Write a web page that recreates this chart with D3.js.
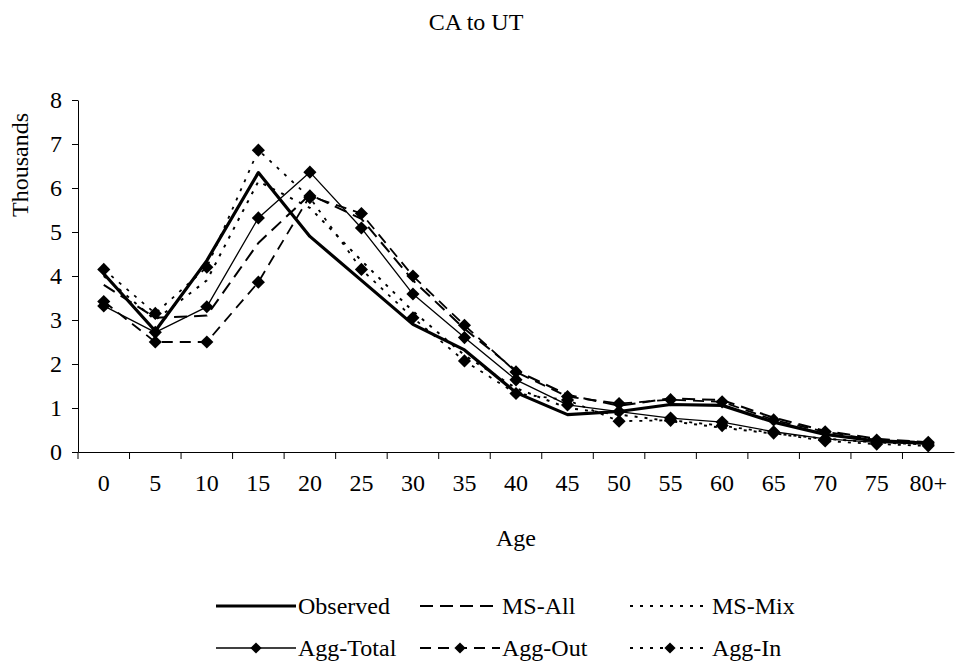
<!DOCTYPE html>
<html>
<head>
<meta charset="utf-8">
<script src="https://cdn.jsdelivr.net/npm/d3@7"></script>
<style>
  body { margin: 0; background: #fff; }
  svg { display: block; font-family: 'Liberation Serif', 'Times New Roman', serif; }
</style>
</head>
<body>
<svg id="chart" width="955" height="664"></svg>
<script>
const ages = ['0','5','10','15','20','25','30','35','40','45','50','55','60','65','70','75','80+'];

const observed = [4.05, 2.75, 4.35, 6.35, 4.9, 3.9, 2.9, 2.32, 1.35, 0.85, 0.92, 1.08, 1.06, 0.68, 0.4, 0.25, 0.2];
const msAll    = [3.8, 3.05, 3.1, 4.75, 5.85, 5.3, 3.9, 2.8, 1.85, 1.3, 1.05, 1.22, 1.18, 0.78, 0.48, 0.3, 0.22];
const msMix    = [4.0, 3.0, 3.9, 6.15, 5.55, 4.35, 3.2, 2.2, 1.45, 1.0, 0.85, 0.7, 0.55, 0.42, 0.3, 0.22, 0.17];
const aggTotal = [3.32, 2.72, 3.3, 5.32, 6.36, 5.09, 3.59, 2.6, 1.64, 1.07, 0.92, 0.77, 0.68, 0.46, 0.3, 0.22, 0.18];
const aggOut   = [3.42, 2.5, 2.5, 3.86, 5.82, 5.42, 4.0, 2.88, 1.82, 1.26, 1.1, 1.19, 1.14, 0.73, 0.46, 0.27, 0.22];
const aggIn    = [4.15, 3.15, 4.2, 6.86, 5.78, 4.15, 3.05, 2.07, 1.33, 1.18, 0.7, 0.72, 0.6, 0.43, 0.25, 0.18, 0.14];

const yTicks = [0, 1, 2, 3, 4, 5, 6, 7, 8];

const series = [
  { name: 'Observed',  values: observed, width: 3.2, dash: null,   marker: false },
  { name: 'MS-All',    values: msAll,    width: 2,   dash: '13,7', marker: false },
  { name: 'MS-Mix',    values: msMix,    width: 2,   dash: '3,7',  marker: false },
  { name: 'Agg-Total', values: aggTotal, width: 1.3, dash: null,   marker: true },
  { name: 'Agg-Out',   values: aggOut,   width: 1.8, dash: '11,7', marker: true },
  { name: 'Agg-In',    values: aggIn,    width: 1.8, dash: '3,7',  marker: true }
];

const svg = d3.select('#chart');
const PLOT = { left: 78, right: 954, top: 100, bottom: 452 };
const FONT = 24;

const x = d3.scaleBand().domain(ages).range([PLOT.left, PLOT.right]);
const y = d3.scaleLinear().domain([0, 8]).range([PLOT.bottom, PLOT.top]);
const cx = (d) => x(d) + x.bandwidth() / 2;

// title
svg.append('text')
  .attr('x', 476).attr('y', 30)
  .attr('text-anchor', 'middle')
  .style('font-size', FONT + 'px')
  .text('CA to UT');

// y axis
const yAxis = svg.append('g')
  .attr('transform', `translate(${PLOT.left},0)`)
  .call(d3.axisLeft(y).tickValues(yTicks).tickSize(6).tickSizeOuter(0).tickPadding(10));
yAxis.select('.domain').attr('stroke', '#000');
yAxis.selectAll('.tick line').attr('stroke', '#000');
yAxis.selectAll('text').style('font-size', FONT + 'px').style('font-family', 'Liberation Serif').attr('fill', '#000');

svg.append('text')
  .attr('transform', `translate(20,165) rotate(-90)`)
  .attr('text-anchor', 'middle')
  .attr('dy', '0.35em')
  .style('font-size', FONT + 'px')
  .text('Thousands');

// x axis (labels centred in bands, ticks on band edges)
const xAxis = svg.append('g')
  .attr('transform', `translate(0,${PLOT.bottom})`)
  .call(d3.axisBottom(x).tickSize(0).tickPadding(22));
xAxis.select('.domain').attr('stroke', '#000');
xAxis.selectAll('text').style('font-size', FONT + 'px').style('font-family', 'Liberation Serif').attr('fill', '#000');
xAxis.selectAll('.edge')
  .data(ages)
  .enter()
  .append('line')
  .attr('x1', (d) => x(d)).attr('x2', (d) => x(d))
  .attr('y1', 0).attr('y2', 7)
  .attr('stroke', '#000');

svg.append('text')
  .attr('x', (PLOT.left + PLOT.right) / 2).attr('y', 546)
  .attr('text-anchor', 'middle')
  .style('font-size', FONT + 'px')
  .text('Age');

// lines
const line = d3.line()
  .x((d, i) => cx(ages[i]))
  .y((d) => y(d));

const diamond = d3.symbol().type(d3.symbolDiamond2).size(110);

series.forEach((s) => {
  svg.append('path')
    .datum(s.values)
    .attr('d', line)
    .attr('fill', 'none')
    .attr('stroke', '#000')
    .attr('stroke-width', s.width)
    .attr('stroke-dasharray', s.dash)
    .attr('stroke-linejoin', 'round');
});

series.filter((s) => s.marker).forEach((s) => {
  svg.append('g')
    .selectAll('path')
    .data(s.values)
    .enter()
    .append('path')
    .attr('d', diamond)
    .attr('transform', (d, i) => `translate(${cx(ages[i])},${y(d)})`)
    .attr('fill', '#000');
});

// legend
const legendPos = [
  { x: 216, y: 606 }, { x: 420, y: 606 }, { x: 630, y: 606 },
  { x: 216, y: 648 }, { x: 420, y: 648 }, { x: 630, y: 648 }
];
const SYM_W = 80;

series.forEach((s, i) => {
  const p = legendPos[i];
  const g = svg.append('g').attr('transform', `translate(${p.x},${p.y})`);
  g.append('line')
    .attr('x1', 0).attr('x2', SYM_W)
    .attr('y1', 0).attr('y2', 0)
    .attr('stroke', '#000')
    .attr('stroke-width', s.width)
    .attr('stroke-dasharray', s.dash);
  if (s.marker) {
    g.append('path')
      .attr('d', d3.symbol().type(d3.symbolDiamond2).size(80))
      .attr('transform', `translate(${SYM_W / 2},0)`)
      .attr('fill', '#000');
  }
  g.append('text')
    .attr('x', SYM_W + 2).attr('y', 0)
    .attr('dy', '0.35em')
    .style('font-size', FONT + 'px')
    .text(s.name);
});
</script>
</body>
</html>
